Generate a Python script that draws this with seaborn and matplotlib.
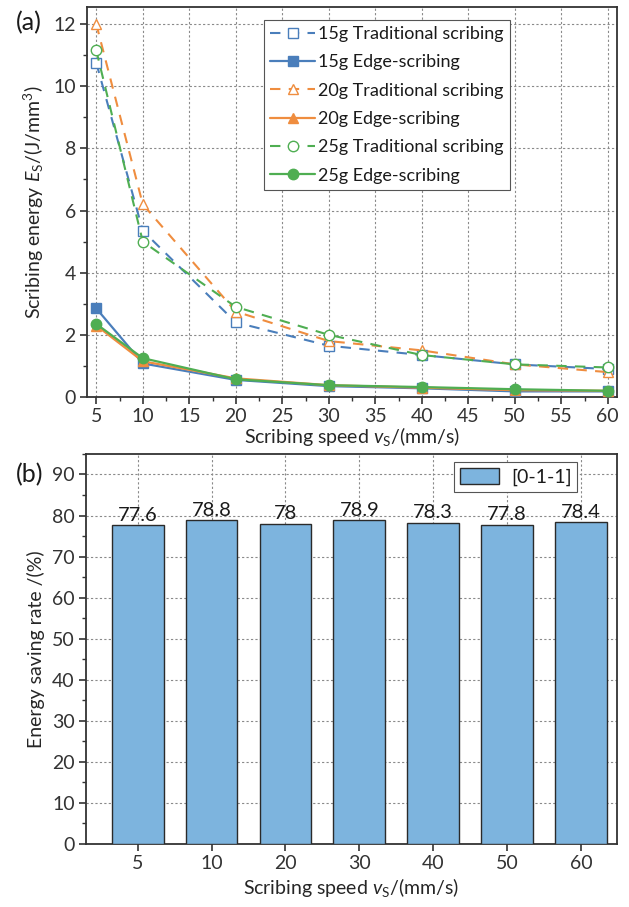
import matplotlib
matplotlib.use("Agg")
import matplotlib.pyplot as plt
import seaborn as sns
import numpy as np
import pandas as pd
from matplotlib.ticker import MultipleLocator

# ---------------- data ----------------
speeds = [5, 10, 20, 30, 40, 50, 60]
trad_15 = [10.75, 5.35, 2.40, 1.65, 1.35, 1.05, 0.90]
edge_15 = [2.85, 1.08, 0.55, 0.35, 0.28, 0.18, 0.18]
trad_20 = [12.00, 6.20, 2.75, 1.80, 1.50, 1.05, 0.80]
edge_20 = [2.30, 1.15, 0.60, 0.38, 0.30, 0.22, 0.20]
trad_25 = [11.15, 5.00, 2.90, 2.00, 1.35, 1.05, 0.95]
edge_25 = [2.35, 1.25, 0.57, 0.38, 0.32, 0.25, 0.20]

series_labels = ["15g Traditional scribing", "15g Edge-scribing",
                 "20g Traditional scribing", "20g Edge-scribing",
                 "25g Traditional scribing", "25g Edge-scribing"]

bar_categories = ["5", "10", "20", "30", "40", "50", "60"]
saving_rate = [77.6, 78.8, 78.0, 78.9, 78.3, 77.8, 78.4]
bar_legend = "[0-1-1]"

# ---------------- style ----------------
sns.set_theme(style="ticks")
FONT = "Lato"
plt.rcParams["font.family"] = [FONT, "DejaVu Sans"]
plt.rcParams["mathtext.fontset"] = "custom"
plt.rcParams["mathtext.rm"] = FONT
plt.rcParams["mathtext.it"] = FONT + ":italic"
plt.rcParams["axes.linewidth"] = 1.3
plt.rcParams["axes.edgecolor"] = "#333333"
plt.rcParams["xtick.color"] = "#333333"
plt.rcParams["ytick.color"] = "#333333"
plt.rcParams["text.color"] = "#1a1a1a"

BLUE = "#4a7ebb"
ORANGE = "#ef8d3f"
GREEN = "#4fae52"
BAR = "#7db4de"
FS = 14

fig = plt.figure(figsize=(6.29, 9.07), dpi=100)
ax1 = fig.add_axes([0.1383, 0.5623, 0.8427, 0.4300])
ax2 = fig.add_axes([0.1367, 0.0695, 0.8443, 0.4300])

# ---------------- (a) line chart ----------------
series = [
    (trad_15, BLUE, "s", True),
    (edge_15, BLUE, "s", False),
    (trad_20, ORANGE, "^", True),
    (edge_20, ORANGE, "^", False),
    (trad_25, GREEN, "o", True),
    (edge_25, GREEN, "o", False),
]
for (vals, col, mk, dashed), lab in zip(series, series_labels):
    df = pd.DataFrame({"speed": speeds, "E": vals})
    kw = dict(markerfacecolor="white", markeredgecolor=col, markeredgewidth=1.0) if dashed else \
        dict(markerfacecolor=col, markeredgecolor=col, markeredgewidth=1.0)
    sns.lineplot(data=df, x="speed", y="E", ax=ax1, color=col, marker=mk,
                 markersize=7.5, linewidth=1.6 if not dashed else 1.5,
                 linestyle=(0, (5, 4)) if dashed else "-",
                 label=lab, zorder=3, **kw)

ax1.set_xlim(4, 61)
ax1.set_ylim(0, 12.55)
ax1.xaxis.set_major_locator(MultipleLocator(5))
ax1.xaxis.set_minor_locator(MultipleLocator(2.5))
ax1.yaxis.set_major_locator(MultipleLocator(2))
ax1.yaxis.set_minor_locator(MultipleLocator(1))
ax1.grid(True, which="major", linestyle=(0, (2, 2)), color="#8a8a8a", linewidth=0.8)
ax1.set_axisbelow(True)
ax1.tick_params(which="major", direction="out", length=5, width=1.2, labelsize=FS, pad=3)
ax1.tick_params(which="minor", direction="out", length=3, width=1.0)
ax1.set_xlabel(r"Scribing speed $\mathit{v}_{\mathrm{S}}$/(mm/s)", fontsize=FS, labelpad=0)
ax1.set_ylabel(r"Scribing energy $\mathit{E}_{\mathrm{S}}$/(J/mm$^{3}$)", fontsize=FS, labelpad=5)
leg1 = ax1.legend(loc="upper left", bbox_to_anchor=(0.334, 0.967), fontsize=13,
                  frameon=True, fancybox=False, edgecolor="#555555", framealpha=1,
                  handlelength=2.5, handletextpad=0.15, labelspacing=0.68,
                  borderpad=0.35, borderaxespad=0.0)
leg1.get_frame().set_linewidth(0.8)
for s in ax1.spines.values():
    s.set_visible(True)

fig.text(0.025, 0.975, "(a)", fontsize=18, ha="left", va="center")

# ---------------- (b) bar chart ----------------
dfb = pd.DataFrame({"speed": bar_categories, "rate": saving_rate})
sns.barplot(data=dfb, x="speed", y="rate", ax=ax2, order=bar_categories,
            color=BAR, edgecolor="#2a2a2a", linewidth=1.0, width=0.7,
            saturation=1, label=bar_legend, zorder=3)
ax2.set_xlim(-0.7, 6.49)
ax2.set_ylim(0, 95)
ax2.yaxis.set_major_locator(MultipleLocator(10))
ax2.yaxis.set_minor_locator(MultipleLocator(5))
ax2.grid(True, which="major", linestyle=(0, (2, 2)), color="#8a8a8a", linewidth=0.8)
ax2.set_axisbelow(True)
ax2.tick_params(which="major", direction="out", length=5, width=1.2, labelsize=FS, pad=3)
ax2.tick_params(which="minor", direction="out", length=3, width=1.0)
ax2.tick_params(axis="x", which="minor", bottom=False)
ax2.set_xlabel(r"Scribing speed $\mathit{v}_{\mathrm{S}}$/(mm/s)", fontsize=FS, labelpad=3)
ax2.set_ylabel("Energy saving rate /(%)", fontsize=FS, labelpad=5)
ax2.bar_label(ax2.containers[0], labels=[f"{v:g}" for v in saving_rate],
              fontsize=14.5, padding=1)
leg2 = ax2.legend(loc="upper right", bbox_to_anchor=(0.925, 0.979), fontsize=FS,
                  frameon=True, fancybox=False, edgecolor="#555555", framealpha=1,
                  handlelength=2.0, handleheight=0.9, handletextpad=0.6,
                  borderpad=0.3, borderaxespad=0.0)
leg2.get_frame().set_linewidth(0.8)
for s in ax2.spines.values():
    s.set_visible(True)

fig.text(0.025, 0.477, "(b)", fontsize=18, ha="left", va="center")

fig.savefig("out.png", dpi=100)
